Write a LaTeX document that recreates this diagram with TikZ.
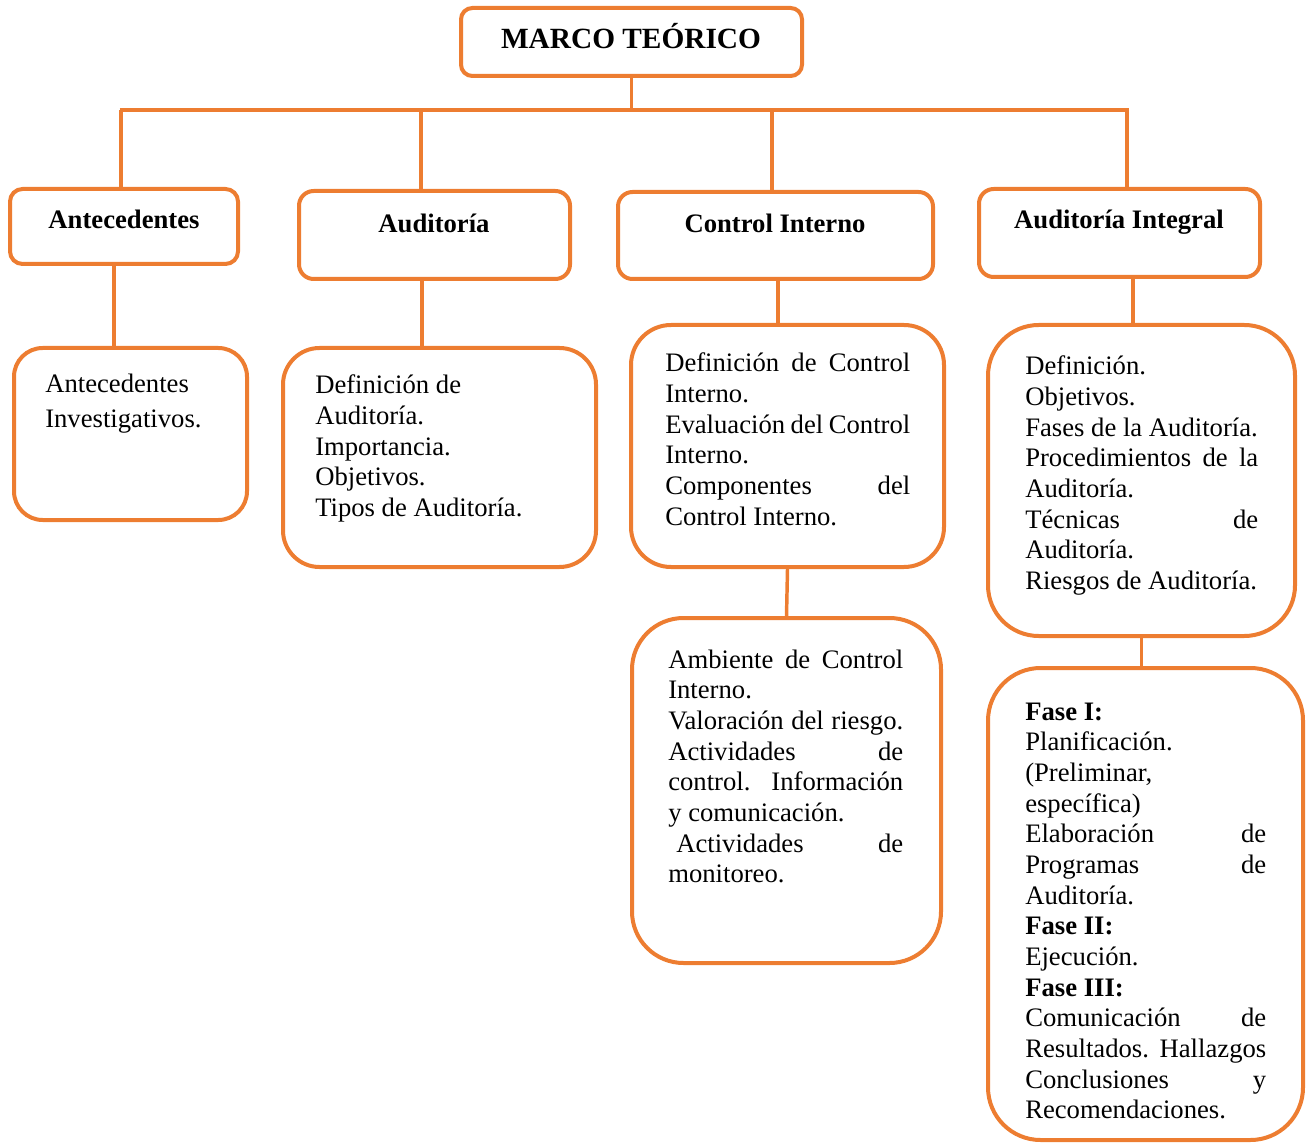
\documentclass[tikz,border=0pt]{standalone}
\usepackage{fontspec}
\setmainfont{Liberation Serif}
\usepackage{tikz}
\definecolor{naranja}{RGB}{237,125,49}
\newcommand{\jl}[1]{{\spaceskip=0pt\xspaceskip=0pt\makebox[\linewidth][s]{#1}}}

\begin{document}
\begin{tikzpicture}[x=0.75pt,y=0.75pt,yscale=-1,xscale=1,
  caja/.style={draw=naranja, line width=3pt, fill=white, inner sep=0pt, rounded corners=#1},
  linea/.style={draw=naranja, line width=2.6pt},
  titulo/.style={anchor=base, inner sep=0pt, font=\fontsize{20}{24}\selectfont\bfseries},
  texto/.style={anchor=base west, inner sep=0pt, font=\fontsize{20}{23}\selectfont,
    execute at begin node={\spaceskip=0pt\xspaceskip=0pt}}]
\path [use as bounding box] (0,0) rectangle (1309,1144);

% Shape: Rounded Rect
\node [caja=8.5pt, minimum width=255.75pt, minimum height=51pt] (marco) at (631.5,42) {};
% Shape: Rounded Rect
\node [caja=9.4pt, minimum width=171pt, minimum height=56.25pt] (antec) at (124,226.5) {};
% Shape: Rounded Rect
\node [caja=11pt, minimum width=203.25pt, minimum height=66pt] (audit) at (434.5,235) {};
% Shape: Rounded Rect
\node [caja=10.9pt, minimum width=236.25pt, minimum height=65.25pt] (ctrl) at (775.5,235.5) {};
% Shape: Rounded Rect
\node [caja=11pt, minimum width=210.75pt, minimum height=66pt] (audint) at (1119.5,233) {};
% Shape: Rounded Rect
\node [caja=21.5pt, minimum width=174.75pt, minimum height=129pt] (antecinv) at (130.5,434) {};
% Shape: Rounded Rect
\node [caja=27.4pt, minimum width=234.75pt, minimum height=164.25pt] (auditdef) at (439.5,457.5) {};
% Shape: Rounded Rect
\node [caja=30pt, minimum width=234.75pt, minimum height=181.5pt] (ctrldef) at (787.5,446) {};
% Shape: Rounded Rect
\node [caja=38pt, minimum width=230.25pt, minimum height=233.25pt] (audintdef) at (1141.5,480.5) {};
% Shape: Rounded Rect
\node [caja=38.6pt, minimum width=231.75pt, minimum height=258.75pt] (ctrlcomp) at (786.5,790.5) {};
% Shape: Rounded Rect
\node [caja=39.4pt, minimum width=236.25pt, minimum height=354pt] (fases) at (1145.5,904) {};

% Connection
\coordinate (barizq) at (119.5,110);
\coordinate (barder) at (1128.5,110);
\coordinate (bajada1) at (121,110);
\coordinate (bajada2) at (421,110);
\coordinate (bajada3) at (772,110);
\coordinate (bajada4) at (1127,110);
\draw [linea] (marco.south) -- (marco.south |- barizq);
\draw [linea] (barizq) -- (barder);
\draw [linea] (bajada1) -- (bajada1 |- antec.north);
\draw [linea] (bajada2) -- (bajada2 |- audit.north);
\draw [linea] (bajada3) -- (bajada3 |- ctrl.north);
\draw [linea] (bajada4) -- (bajada4 |- audint.north);
% Connection
\draw [linea] ([xshift=-7.5pt]antec.south) -- ([xshift=-7.5pt]antec.south |- antecinv.north);
% Connection
\draw [linea] ([xshift=-9.4pt]audit.south) -- ([xshift=-9.4pt]audit.south |- auditdef.north);
% Connection
\draw [linea] ([xshift=1.9pt]ctrl.south) -- ([xshift=1.9pt]ctrl.south |- ctrldef.north);
% Connection
\draw [linea] ([xshift=10.1pt]audint.south) -- ([xshift=10.1pt]audint.south |- audintdef.north);
% Connection
\draw [linea] (ctrldef.south) -- (ctrlcomp.north);
% Connection
\draw [linea] (audintdef.south) -- (audintdef.south |- fases.north);

% Text Node
\node [titulo, font=\fontsize{22}{26}\selectfont\bfseries] (tmarco) at (631,49) {MARCO TEÓRICO};
% Text Node
\node [titulo] (tantec) at (124,229) {Antecedentes};
% Text Node
\node [titulo] (taudit) at (434,233) {Auditoría};
% Text Node
\node [titulo] (tctrl) at (775,233) {Control Interno};
% Text Node
\node [titulo] (taudint) at (1119,229) {Auditoría Integral};
% Text Node
\node [texto, text width=150pt, font=\fontsize{20}{26.25}\selectfont] (tantecinv) at (45,393) {Antecedentes\\Investigativos.};
% Text Node
\node [texto, text width=195pt] (tauditdef) at (315,394) {Definición de\\Auditoría.\\Importancia.\\Objetivos.\\Tipos de Auditoría.};
% Text Node
\node [texto, text width=183.75pt] (tctrldef) at (665,372) {\jl{Definición de Control}\\Interno.\\\jl{Evaluación del Control}\\Interno.\\\jl{Componentes del}\\Control Interno.};
% Text Node
\node [texto, text width=174.75pt] (taudintdef) at (1025,375) {Definición.\\Objetivos.\\\mbox{Fases de la Auditoría.}\\\jl{Procedimientos de la}\\Auditoría.\\\jl{Técnicas de}\\Auditoría.\\\mbox{Riesgos de Auditoría.}};
% Text Node
\node [texto, text width=176.25pt] (tctrlcomp) at (668,668) {\jl{Ambiente de Control}\\Interno.\\\jl{Valoración del riesgo.}\\\jl{Actividades de}\\\jl{control. Información}\\y comunicación.\\\jl{\hspace*{0.3em}Actividades de}\\monitoreo.};
% Text Node
\node [texto, text width=180.75pt] (tfases) at (1025,720) {\textbf{Fase I:}\\Planificación.\\(Preliminar,\\específica)\\\jl{Elaboración de}\\\jl{Programas de}\\Auditoría.\\\textbf{Fase II:}\\Ejecución.\\\textbf{Fase III:}\\\jl{Comunicación de}\\\jl{Resultados. Hallazgos}\\\jl{Conclusiones y}\\Recomendaciones.};

\end{tikzpicture}
\end{document}
